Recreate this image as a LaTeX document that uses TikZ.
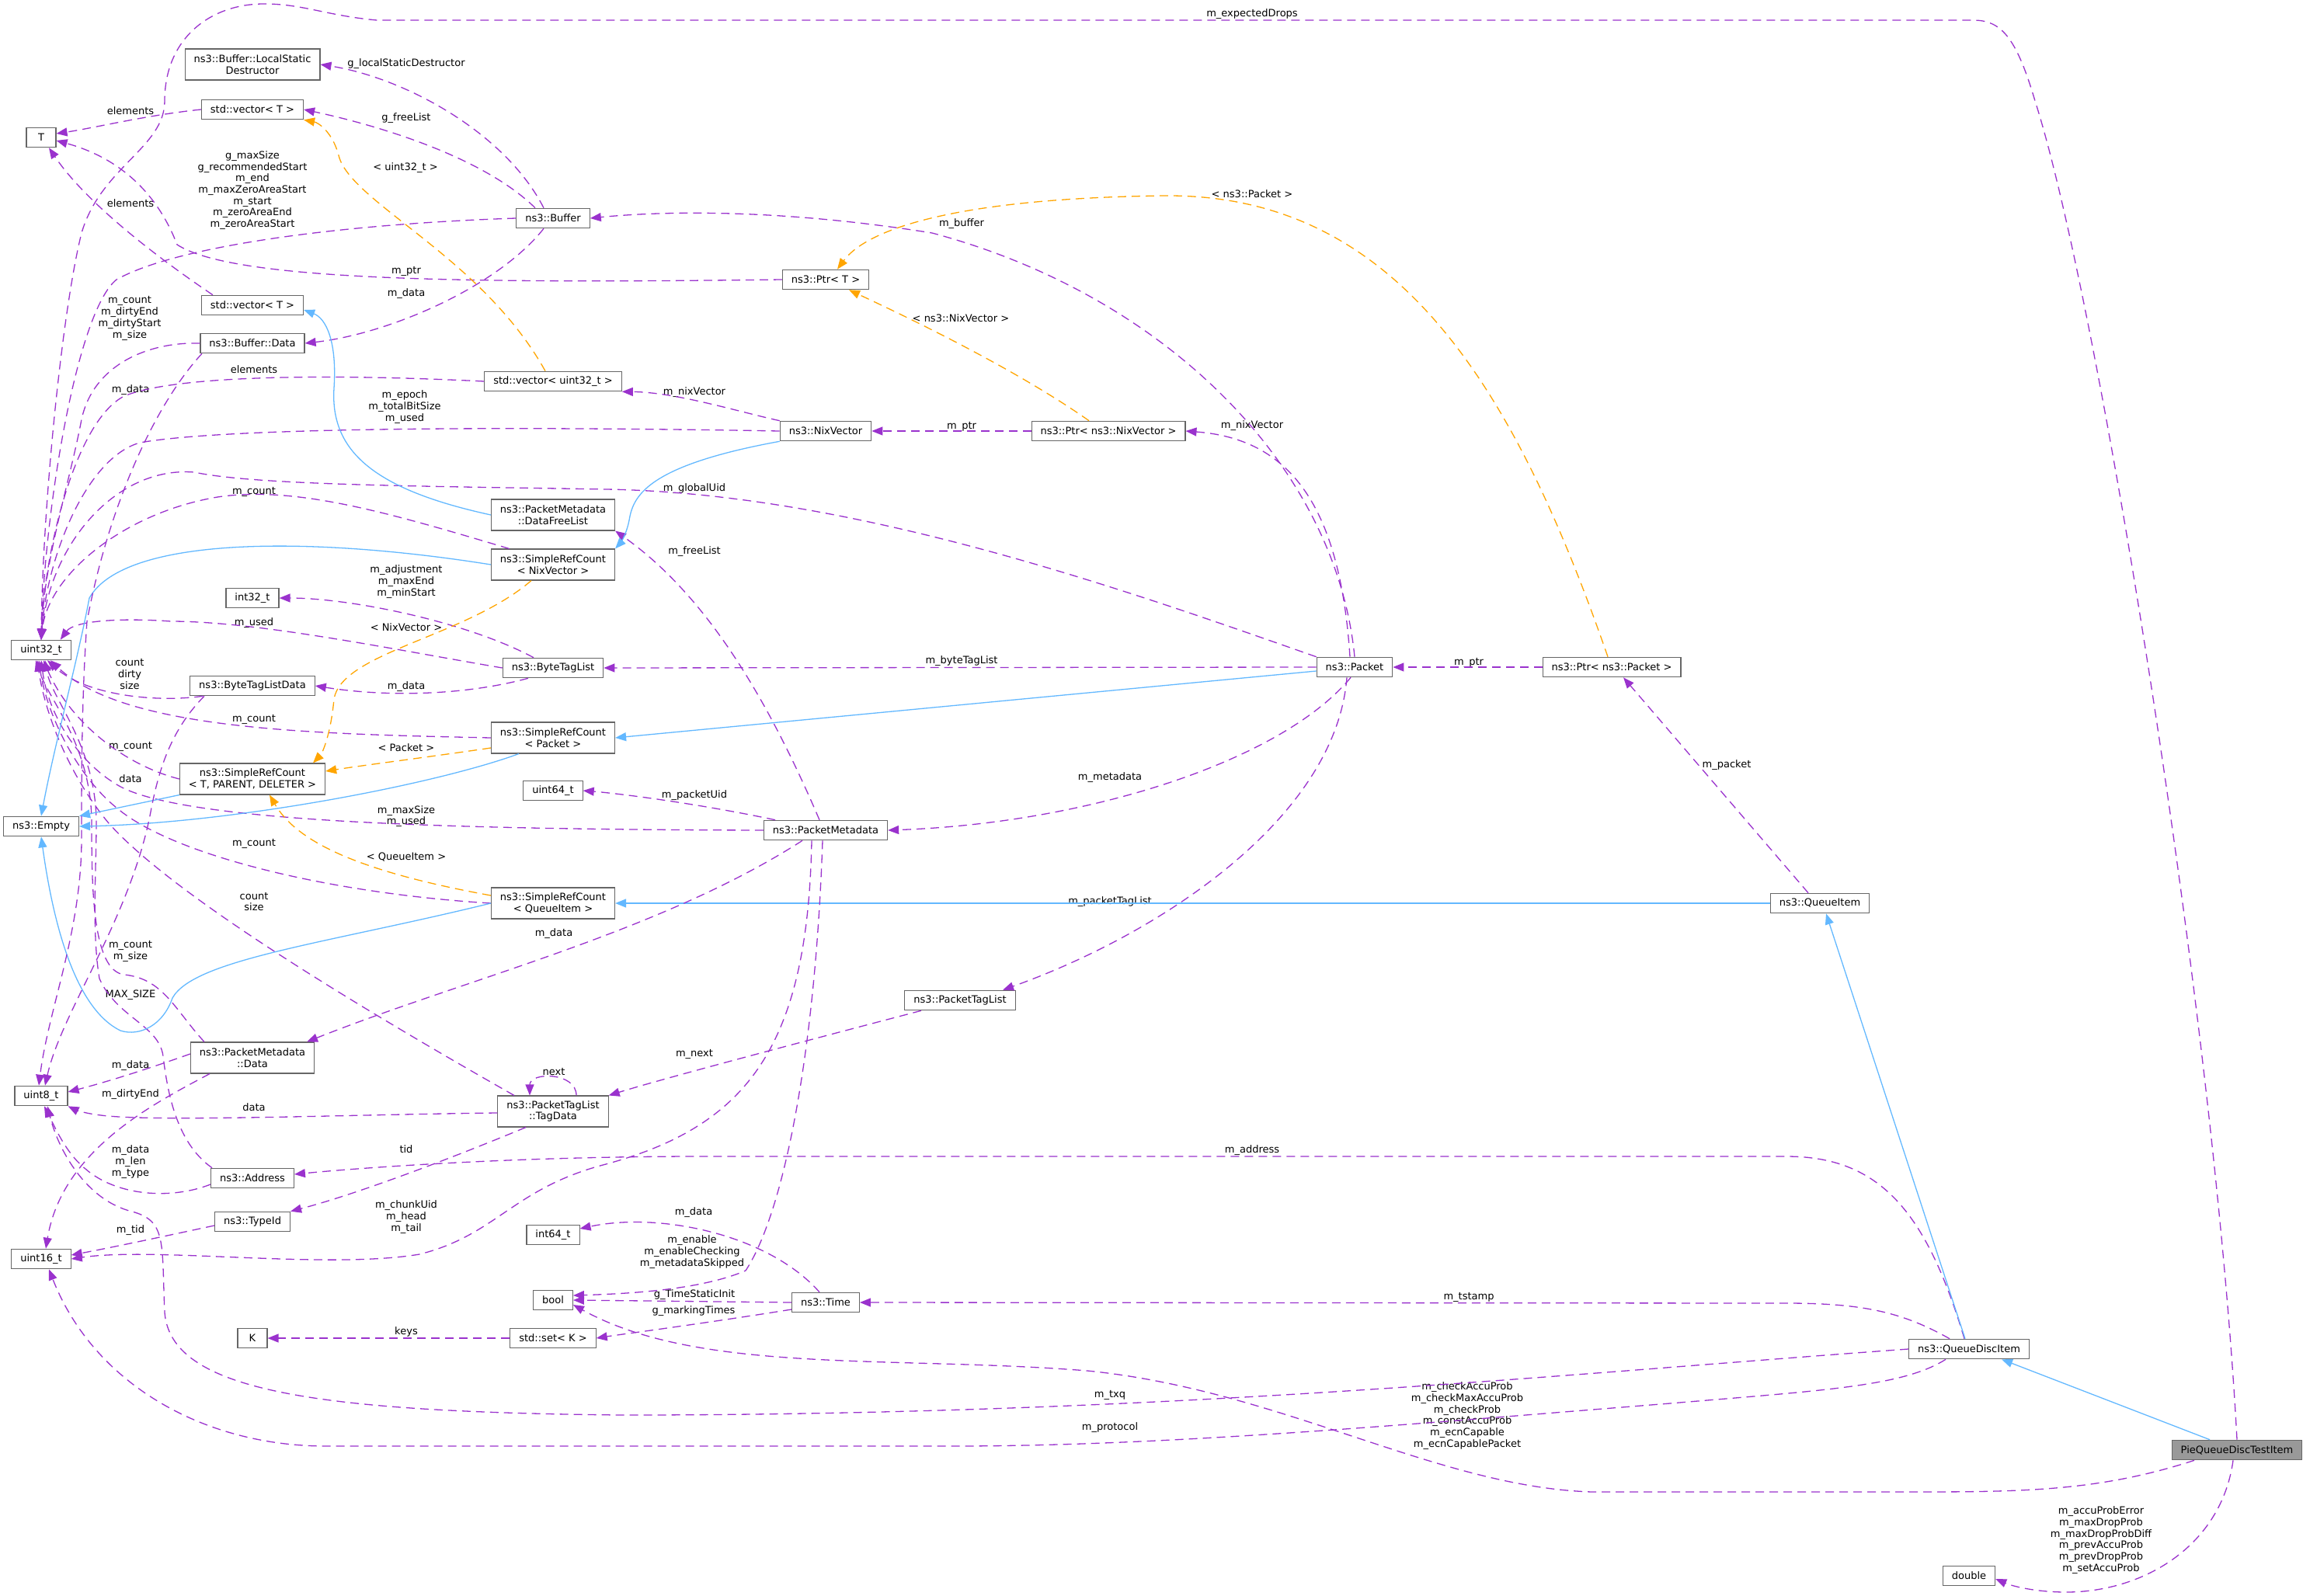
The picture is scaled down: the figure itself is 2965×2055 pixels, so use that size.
\documentclass[tikz,border=0pt]{standalone}
\usepackage{fontspec}
\setmainfont{DejaVu Sans}
\usetikzlibrary{arrows.meta}
\definecolor{usecol}{HTML}{9A32CD}
\definecolor{inhcol}{HTML}{63B8FF}
\definecolor{tplcol}{HTML}{FFA500}
\definecolor{boxcol}{HTML}{666666}
\definecolor{mainfill}{HTML}{999999}
\newcommand{\dxfont}{\fontsize{13}{14.7}\selectfont}
\begin{document}
\begin{tikzpicture}[x=1pt,y=-1pt,
  cls/.style={draw=boxcol, line width=1.1pt, fill=white, font=\dxfont, align=center, minimum height=25.5pt, minimum width=38pt, inner xsep=11.5pt, inner ysep=2pt},
  cls2/.style={cls, minimum height=40pt},
  lbl/.style={font=\dxfont, align=center, inner sep=0pt},
  usage/.style={draw=usecol, line width=1.3pt, dash pattern=on 11pt off 7pt, -{Triangle[length=14pt,width=11pt]}},
  inherit/.style={draw=inhcol, line width=1.3pt, -{Triangle[length=14pt,width=11pt]}},
  templ/.style={draw=tplcol, line width=1.3pt, dash pattern=on 11pt off 7pt, -{Triangle[length=14pt,width=11pt]}}]
\useasboundingbox (0,0) rectangle (2965,2055);

\node[cls2] (lsd) at (325,83) {ns3::Buffer::LocalStatic\\Destructor};
\node[cls] (vecT) at (325,141) {std::vector< T >};
\node[cls] (T) at (53,177) {T};
\node[cls] (buffer) at (712,281) {ns3::Buffer};
\node[cls] (vecTb) at (325,393) {std::vector< T >};
\node[cls] (bufData) at (325,442) {ns3::Buffer::Data};
\node[cls] (vecU) at (712,491) {std::vector< uint32\_t >};
\node[cls] (ptrT) at (1063,360) {ns3::Ptr< T >};
\node[cls] (nix) at (1063,555) {ns3::NixVector};
\node[cls] (ptrNix) at (1427,555) {ns3::Ptr< ns3::NixVector >};
\node[cls2] (freeList) at (712,663) {ns3::PacketMetadata\\::DataFreeList};
\node[cls2] (srcNix) at (712,727) {ns3::SimpleRefCount\\< NixVector >};
\node[cls] (i32) at (325,770) {int32\_t};
\node[cls] (u32) at (53,837) {uint32\_t};
\node[cls] (btl) at (712,860) {ns3::ByteTagList};
\node[cls] (btlData) at (325,883) {ns3::ByteTagListData};
\node[cls2] (srcPkt) at (712,950) {ns3::SimpleRefCount\\< Packet >};
\node[cls2] (srcT) at (325,1003) {ns3::SimpleRefCount\\< T, PARENT, DELETER >};
\node[cls] (u64) at (712,1018) {uint64\_t};
\node[cls] (empty) at (53,1064) {ns3::Empty};
\node[cls] (meta) at (1063,1069) {ns3::PacketMetadata};
\node[cls2] (srcQi) at (712,1163) {ns3::SimpleRefCount\\< QueueItem >};
\node[cls2] (metaData) at (325,1362) {ns3::PacketMetadata\\::Data};
\node[cls] (u8) at (53,1411) {uint8\_t};
\node[cls2] (tagData) at (712,1431) {ns3::PacketTagList\\::TagData};
\node[cls] (ptl) at (1236,1288) {ns3::PacketTagList};
\node[cls] (addr) at (325,1517) {ns3::Address};
\node[cls] (typeId) at (325,1573) {ns3::TypeId};
\node[cls] (u16) at (53,1621) {uint16\_t};
\node[cls] (i64) at (712,1590) {int64\_t};
\node[cls] (bool) at (712,1674) {bool};
\node[cls] (K) at (325,1723) {K};
\node[cls] (setK) at (712,1723) {std::set< K >};
\node[cls] (time) at (1063,1677) {ns3::Time};
\node[cls] (pkt) at (1744,859) {ns3::Packet};
\node[cls] (ptrPkt) at (2075,859) {ns3::Ptr< ns3::Packet >};
\node[cls] (qi) at (2343,1163) {ns3::QueueItem};
\node[cls] (qdi) at (2535,1737) {ns3::QueueDiscItem};
\node[cls, fill=mainfill] (pie) at (2880,1867) {PieQueueDiscTestItem};
\node[cls] (dbl) at (2535,2029) {double};

\node[lbl] (lExp) at (1612,18) {m\_expectedDrops};
\node[lbl] (lLsd) at (523,82) {g\_localStaticDestructor};
\node[lbl] (lFree) at (523,152) {g\_freeList};
\node[lbl] (lElemA) at (168,143) {elements};
\node[lbl] (lMax) at (325,245) {g\_maxSize\\g\_recommendedStart\\m\_end\\m\_maxZeroAreaStart\\m\_start\\m\_zeroAreaEnd\\m\_zeroAreaStart};
\node[lbl] (lTplU) at (522,216) {< uint32\_t >};
\node[lbl] (lElemB) at (168,262) {elements};
\node[lbl] (lTplPkt) at (1612,250) {< ns3::Packet >};
\node[lbl] (lBuf) at (1238,288) {m\_buffer};
\node[lbl] (lPtrT) at (523,349) {m\_ptr};
\node[lbl] (lBufData) at (523,378) {m\_data};
\node[lbl] (lTplNix) at (1237,410) {< ns3::NixVector >};
\node[lbl] (lCntA) at (167,410) {m\_count\\m\_dirtyEnd\\m\_dirtyStart\\m\_size};
\node[lbl] (lElemC) at (327,476) {elements};
\node[lbl] (lDataA) at (168,502) {m\_data};
\node[lbl] (lNixA) at (894,505) {m\_nixVector};
\node[lbl] (lEpoch) at (521,524) {m\_epoch\\m\_totalBitSize\\m\_used};
\node[lbl] (lPtrNix) at (1238,549) {m\_ptr};
\node[lbl] (lNixB) at (1612,548) {m\_nixVector};
\node[lbl] (lUid) at (894,629) {m\_globalUid};
\node[lbl] (lCntB) at (327,633) {m\_count};
\node[lbl] (lFreeList) at (894,710) {m\_freeList};
\node[lbl] (lAdj) at (523,749) {m\_adjustment\\m\_maxEnd\\m\_minStart};
\node[lbl] (lUsed) at (327,802) {m\_used};
\node[lbl] (lTplNixB) at (523,808) {< NixVector >};
\node[lbl] (lDirty) at (167,868) {count\\dirty\\size};
\node[lbl] (lBtl) at (1238,851) {m\_byteTagList};
\node[lbl] (lPtrPkt) at (1891,853) {m\_ptr};
\node[lbl] (lDataB) at (523,884) {m\_data};
\node[lbl] (lCntC) at (327,926) {m\_count};
\node[lbl] (lCntD) at (168,961) {m\_count};
\node[lbl] (lTplPktB) at (523,963) {< Packet >};
\node[lbl] (lDataC) at (168,1003) {data};
\node[lbl] (lMeta) at (1429,1001) {m\_metadata};
\node[lbl] (lPkt) at (2223,985) {m\_packet};
\node[lbl] (lPuid) at (894,1024) {m\_packetUid};
\node[lbl] (lMaxSize) at (523,1051) {m\_maxSize\\m\_used};
\node[lbl] (lCntE) at (327,1086) {m\_count};
\node[lbl] (lTplQi) at (523,1104) {< QueueItem >};
\node[lbl] (lPtl) at (1429,1161) {m\_packetTagList};
\node[lbl] (lCntSize) at (327,1161) {count\\size};
\node[lbl] (lDataD) at (713,1202) {m\_data};
\node[lbl] (lCntF) at (168,1225) {m\_count\\m\_size};
\node[lbl] (lMaxS) at (168,1281) {MAX\_SIZE};
\node[lbl] (lNextA) at (894,1357) {m\_next};
\node[lbl] (lNextB) at (713,1380) {next};
\node[lbl] (lDataE) at (168,1372) {m\_data};
\node[lbl] (lDirtyEnd) at (168,1409) {m\_dirtyEnd};
\node[lbl] (lDataF) at (327,1426) {data};
\node[lbl] (lAddr) at (1612,1481) {m\_address};
\node[lbl] (lTid) at (523,1480) {tid};
\node[lbl] (lLen) at (168,1496) {m\_data\\m\_len\\m\_type};
\node[lbl] (lTidB) at (168,1584) {m\_tid};
\node[lbl] (lChunk) at (523,1567) {m\_chunkUid\\m\_head\\m\_tail};
\node[lbl] (lDataG) at (893,1561) {m\_data};
\node[lbl] (lEnable) at (891,1612) {m\_enable\\m\_enableChecking\\m\_metadataSkipped};
\node[lbl] (lInit) at (894,1667) {g\_TimeStaticInit};
\node[lbl] (lMark) at (893,1688) {g\_markingTimes};
\node[lbl] (lKeys) at (523,1715) {keys};
\node[lbl] (lStamp) at (1891,1670) {m\_tstamp};
\node[lbl] (lTxq) at (1429,1796) {m\_txq};
\node[lbl] (lCheck) at (1889,1823) {m\_checkAccuProb\\m\_checkMaxAccuProb\\m\_checkProb\\m\_constAccuProb\\m\_ecnCapable\\m\_ecnCapablePacket};
\node[lbl] (lProto) at (1429,1838) {m\_protocol};
\node[lbl] (lAccu) at (2705,1983) {m\_accuProbError\\m\_maxDropProb\\m\_maxDropProbDiff\\m\_prevAccuProb\\m\_prevDropProb\\m\_setAccuProb};

\draw[usage] (pie.north) .. controls (2850,1300) and (2700,380) .. (2620,130) .. controls (2595,45) and (2575,26) .. (2540,26) -- (485,26) .. controls (420,20) and (390,5) .. (340,5) .. controls (270,5) and (212,50) .. (212,130) .. controls (212,190) and (130,215) .. (105,300) .. controls (80,400) and (55,650) .. (u32.north);
\draw[usage] (buffer.west) .. controls (450,288) and (230,315) .. (150,360) .. controls (100,400) and (58,650) .. (u32.north);
\draw[usage] (bufData.west) .. controls (190,440) and (120,470) .. (105,540) .. controls (90,620) and (57,720) .. (u32.north);
\draw[usage] (vecU.west) .. controls (400,480) and (220,485) .. (160,510) .. controls (100,540) and (58,700) .. (u32.north);
\draw[usage] (nix.west) .. controls (600,548) and (280,552) .. (180,570) .. controls (110,590) and (60,720) .. (u32.north);
\draw[usage] (pkt.north west) .. controls (1450,760) and (1100,635) .. (780,630) .. controls (550,626) and (330,625) .. (250,608) .. controls (150,600) and (65,700) .. (u32.north);
\draw[usage] (srcNix.160) .. controls (500,660) and (380,625) .. (280,640) .. controls (160,660) and (62,740) .. (u32.north);
\draw[usage] (btl.west) .. controls (500,835) and (330,800) .. (220,800) .. controls (150,795) and (95,800) .. ([xshift=-14pt]u32.north east);
\draw[usage] ([xshift=17pt]btlData.south west) .. controls (200,905) and (110,895) .. ([xshift=8pt]u32.south);
\draw[usage] (srcPkt.west) .. controls (400,945) and (160,940) .. ([xshift=12pt]u32.south);
\draw[usage] (srcT.west) .. controls (160,985) and (90,930) .. ([xshift=3pt]u32.south);
\draw[usage] (meta.west) .. controls (600,1068) and (230,1060) .. (150,1010) .. controls (100,980) and (62,920) .. (u32.south);
\draw[usage] (srcQi.west) .. controls (420,1150) and (220,1100) .. (150,1040) .. controls (100,1000) and (60,920) .. ([xshift=-3pt]u32.south);
\draw[usage] ([xshift=-50pt]tagData.north) .. controls (450,1290) and (220,1150) .. (140,1060) .. controls (90,1000) and (58,920) .. ([xshift=-5pt]u32.south);
\draw[usage] ([xshift=-62pt]metaData.north) .. controls (225,1300) and (210,1260) .. (160,1255) .. controls (120,1250) and (118,1150) .. (118,1060) .. controls (118,960) and (62,900) .. ([xshift=-7pt]u32.south);
\draw[usage] ([xshift=-52pt]addr.north) .. controls (225,1470) and (215,1400) .. (210,1360) .. controls (205,1320) and (150,1310) .. (128,1260) .. controls (118,1200) and (124,1120) .. (124,1060) .. controls (124,960) and (66,900) .. ([xshift=5pt]u32.south);

\draw[usage] (vecT.west) .. controls (190,148) and (120,165) .. ([yshift=5pt]T.east);
\draw[usage] ([xshift=15pt]vecTb.north west) .. controls (200,330) and (110,260) .. ([xshift=10pt]T.south);
\draw[usage] (ptrT.west) .. controls (600,365) and (300,362) .. (228,315) .. controls (205,255) and (160,205) .. ([yshift=-4pt]T.east);
\draw[usage] ([xshift=-23pt]buffer.north) .. controls (620,200) and (480,160) .. (vecT.east);
\draw[templ] ([xshift=-10pt]vecU.north) .. controls (620,330) and (450,260) .. (436,200) .. controls (428,170) and (410,158) .. (vecT.south east);
\draw[usage] ([xshift=-12pt]buffer.north) .. controls (650,170) and (520,100) .. (lsd.east);
\draw[usage] (pkt.north) .. controls (1720,600) and (1500,380) .. (1200,300) .. controls (1000,268) and (850,272) .. (buffer.east);
\draw[usage] ([xshift=-12pt]buffer.south) .. controls (640,370) and (500,430) .. (bufData.east);
\draw[inherit] (freeList.west) .. controls (480,630) and (425,580) .. (430,500) .. controls (434,440) and (420,410) .. ([yshift=-6pt]vecTb.east);
\draw[usage] (nix.north west) .. controls (950,530) and (870,505) .. (vecU.south east);
\draw[templ] ([xshift=-5pt]ptrPkt.north) .. controls (1950,500) and (1800,250) .. (1500,252) .. controls (1250,255) and (1120,290) .. ([xshift=15pt]ptrT.north);
\draw[templ] ([xshift=-25pt]ptrNix.north) .. controls (1300,470) and (1150,400) .. ([xshift=30pt]ptrT.south);
\draw[usage] (ptrNix.west) -- (nix.east);
\draw[usage] ([xshift=-6pt]pkt.north) .. controls (1725,650) and (1660,565) .. (ptrNix.east);
\draw[usage] ([xshift=-8pt]meta.north) .. controls (980,880) and (900,760) .. (freeList.south east);
\draw[inherit] (nix.south west) .. controls (830,600) and (815,640) .. (810,670) .. controls (806,690) and (798,700) .. (srcNix.north east);
\draw[usage] (pkt.west) -- (btl.east);
\draw[usage] ([xshift=-25pt]btl.north) .. controls (600,800) and (450,770) .. (i32.east);
\draw[usage] ([xshift=-32pt]btl.south) .. controls (600,895) and (500,898) .. (btlData.east);
\draw[inherit] ([yshift=-5pt]pkt.west) -- (srcPkt.east);
\draw[templ] ([xshift=-28pt]srcNix.south) .. controls (600,820) and (440,840) .. (430,900) .. controls (426,945) and (415,970) .. ([xshift=78pt]srcT.north);
\draw[templ] ([yshift=-13pt]srcPkt.west) .. controls (550,975) and (470,985) .. ([yshift=10pt]srcT.east);
\draw[templ] ([yshift=10pt]srcQi.west) .. controls (450,1120) and (380,1080) .. ([xshift=22pt]srcT.south);
\draw[inherit] (qi.west) -- (srcQi.east);
\draw[inherit] (srcNix.west) .. controls (400,690) and (160,690) .. (115,770) .. controls (100,850) and (70,960) .. (empty.north);
\draw[inherit] (srcT.south west) -- (empty.north east);
\draw[inherit] ([xshift=-44pt]srcPkt.south) .. controls (560,1010) and (300,1060) .. (empty.east);
\draw[inherit] (srcQi.west) .. controls (420,1215) and (250,1235) .. (222,1285) .. controls (210,1320) and (180,1335) .. (155,1327) .. controls (100,1300) and (70,1200) .. (empty.south);
\draw[usage] ([xshift=-65pt]meta.north) .. controls (900,1035) and (800,1022) .. (u64.east);
\draw[usage] ([xshift=-5pt]pkt.south) .. controls (1650,980) and (1400,1060) .. (meta.east);
\draw[usage] ([xshift=-30pt]meta.south) .. controls (850,1200) and (600,1260) .. ([xshift=70pt]metaData.north);
\draw[usage] ([xshift=-10pt]pkt.south) .. controls (1720,1050) and (1500,1200) .. ([xshift=55pt]ptl.north);
\draw[usage] ([xshift=-50pt]ptl.south) .. controls (1000,1350) and (850,1390) .. (tagData.north east);
\draw[usage] ([xshift=30pt]tagData.north) .. controls (742,1380) and (682,1380) .. ([xshift=-30pt]tagData.north);
\draw[usage] ([xshift=-35pt]tagData.south) .. controls (560,1500) and (450,1540) .. (typeId.north east);
\draw[usage] ([xshift=-6pt]qdi.north) .. controls (2480,1560) and (2420,1489) .. (2300,1489) -- (900,1489) .. controls (650,1489) and (450,1505) .. ([yshift=5pt]addr.east);
\draw[usage] ([xshift=-8pt]time.north) .. controls (990,1590) and (850,1560) .. ([yshift=8pt]i64.east);
\draw[usage] ([xshift=-4pt]meta.south) .. controls (1050,1350) and (1010,1560) .. (960,1636) .. controls (900,1662) and (800,1666) .. ([yshift=6pt]bool.east);
\draw[usage] ([xshift=-18pt]meta.south) .. controls (1040,1350) and (960,1450) .. (780,1499) .. controls (660,1530) and (640,1590) .. (540,1615) .. controls (420,1635) and (200,1605) .. (u16.east);
\draw[usage] (time.west) -- (bool.east);
\draw[usage] ([xshift=-55pt]pie.south) .. controls (2700,1921) and (2600,1921) .. (2450,1921) -- (2050,1921) .. controls (1850,1915) and (1650,1790) .. (1400,1765) .. controls (1150,1745) and (900,1770) .. ([yshift=-6pt]bool.east);
\draw[usage] ([yshift=-9pt]time.west) .. controls (900,1705) and (800,1718) .. (setK.east);
\draw[usage] (setK.west) -- (K.east);
\draw[usage] ([xshift=-25pt]qdi.north) .. controls (2450,1690) and (2400,1678) .. (2300,1678) -- (time.east);
\draw[usage] (qdi.west) .. controls (2000,1770) and (1500,1822) .. (800,1822) .. controls (400,1818) and (220,1790) .. (212,1690) .. controls (208,1600) and (215,1572) .. (170,1560) .. controls (110,1545) and (75,1480) .. ([xshift=8pt]u8.south);
\draw[usage] ([xshift=-30pt]qdi.south) .. controls (2450,1785) and (2350,1790) .. (2150,1807) .. controls (1800,1835) and (1500,1862) .. (1226,1862) -- (420,1862) .. controls (260,1862) and (120,1780) .. ([xshift=10pt]u16.south);
\draw[usage] ([yshift=-8pt]addr.west) .. controls (220,1545) and (150,1540) .. (110,1505) .. controls (85,1485) and (70,1450) .. ([xshift=4pt]u8.south);
\draw[usage] ([yshift=-5pt]typeId.west) .. controls (220,1590) and (150,1605) .. ([yshift=5pt]u16.east);
\draw[usage] ([xshift=-55pt]metaData.south) .. controls (200,1420) and (80,1480) .. ([xshift=6pt]u16.north);
\draw[usage] ([yshift=5pt]metaData.west) .. controls (180,1380) and (130,1395) .. ([yshift=5pt]u8.east);
\draw[usage] ([yshift=-2pt]tagData.west) .. controls (450,1435) and (200,1445) .. (130,1436) .. controls (105,1433) and (95,1428) .. (u8.south east);
\draw[usage] ([xshift=-65pt]bufData.south) .. controls (200,520) and (140,650) .. (112,800) .. controls (105,900) and (105,1000) .. (105,1080) .. controls (105,1200) and (62,1300) .. ([xshift=-3pt]u8.north);
\draw[usage] ([xshift=-62pt]btlData.south) .. controls (220,940) and (205,990) .. (195,1040) .. controls (170,1180) and (80,1300) .. ([xshift=5pt]u8.north);
\draw[inherit] ([xshift=-35pt]pie.north) -- ([xshift=42pt]qdi.south);
\draw[inherit] ([xshift=-5pt]qdi.north) -- ([xshift=8pt]qi.south);
\draw[usage] ([xshift=-15pt]qi.north) -- ([xshift=15pt]ptrPkt.south);
\draw[usage] (ptrPkt.west) -- (pkt.east);
\draw[usage] ([xshift=-5pt]pie.south) .. controls (2860,1990) and (2760,2050) .. (2660,2050) .. controls (2620,2050) and (2590,2042) .. ([yshift=-4pt]dbl.east);
\end{tikzpicture}
\end{document}
